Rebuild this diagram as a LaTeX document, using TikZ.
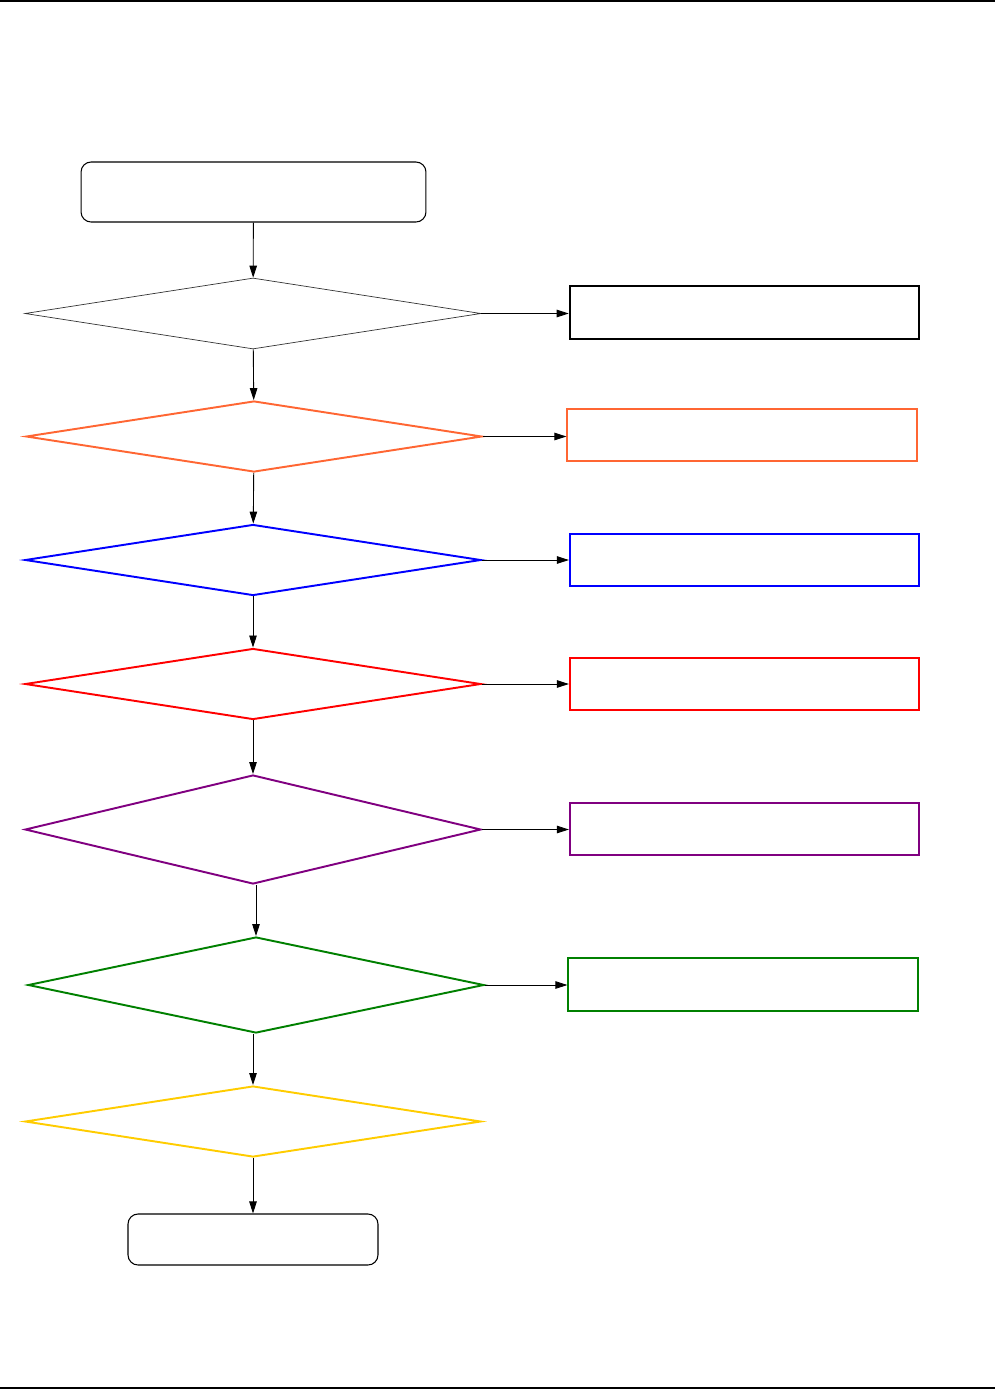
\documentclass[tikz,border=0pt]{standalone}
\usepackage{tikz}
\usetikzlibrary{shapes.geometric, arrows.meta, positioning}

\definecolor{chkorange}{RGB}{255,102,51}
\definecolor{chkblue}{RGB}{0,0,255}
\definecolor{chkred}{RGB}{255,0,0}
\definecolor{chkpurple}{RGB}{128,0,128}
\definecolor{chkgreen}{RGB}{0,128,0}
\definecolor{chkyellow}{RGB}{255,204,0}

\begin{document}
\begin{tikzpicture}[
    x=0.02cm, y=-0.02cm,
    % one unit = one pixel of the page
    terminal/.style={rectangle, rounded corners=0.2cm, draw=black, line width=0.6pt, inner sep=0pt},
    decision/.style={diamond, aspect=6.4, draw, line width=1.1pt, inner sep=0pt, minimum width=9.12cm, minimum height=1.42cm},
    result/.style={rectangle, draw, line width=1pt, inner sep=0pt, minimum width=6.99cm, minimum height=1.05cm},
    rule/.style={line width=0.9pt},
    arrow/.style={line width=0.5pt, -{Triangle[length=0.24cm, width=0.15cm]}}
]
\useasboundingbox (0,0) rectangle (995,1390);

%% -- page rules ------------------------------------------------
\draw [rule] (0,1) -- (995,1);
\draw [rule] (0,1388) -- (995,1388);

%% -- main column -----------------------------------------------
\node (start) [terminal, minimum width=6.9cm, minimum height=1.2cm] at (253.5,192) {};

\node (check1) [decision, draw=black!80, line width=0.4pt] at (253,313.5) {};
\node (check2) [decision, draw=chkorange] at (254,436.5) {};
\node (check3) [decision, draw=chkblue] at (253,560) {};
\node (check4) [decision, draw=chkred] at (253,684) {};
\node (check5) [decision, draw=chkpurple, minimum height=2.18cm, aspect=4.2] at (253,829.5) {};
\node (check6) [decision, draw=chkgreen, minimum height=1.92cm, aspect=4.75] at (256,985) {};
\node (check7) [decision, draw=chkyellow] at (253,1121.5) {};

\node (finish) [terminal, minimum width=5cm, minimum height=1.02cm] at (253,1239.5) {};

%% -- results on the right ----------------------------------------
\node (res1) [result, draw=black, line width=1.2pt] at (744.5,312.5) {};
\node (res2) [result, draw=chkorange] at (742,435) {};
\node (res3) [result, draw=chkblue] at (744.5,560) {};
\node (res4) [result, draw=chkred] at (744.5,684) {};
\node (res5) [result, draw=chkpurple] at (744.5,829) {};
\node (res6) [result, draw=chkgreen] at (743,984.5) {};

%% -- main arrows -------------------------------------------------
\draw [arrow] (start) -- (check1);
\draw [arrow] (check1) -- (check2);
\draw [arrow] (check2) -- (check3);
\draw [arrow] (check3) -- (check4);
\draw [arrow] (check4) -- (check5);
\draw [arrow] (check5.south -| check6.north) -- (check6.north);
\draw [arrow] (check6.south -| check7.north) -- (check7.north);
\draw [arrow] (check7) -- (finish);

%% -- side arrows -------------------------------------------------
\draw [arrow] (check1.east) -- (check1.east -| res1.west);
\draw [arrow] (check2.east) -- (check2.east -| res2.west);
\draw [arrow] (check3.east) -- (check3.east -| res3.west);
\draw [arrow] (check4.east) -- (check4.east -| res4.west);
\draw [arrow] (check5.east) -- (check5.east -| res5.west);
\draw [arrow] (check6.east) -- (check6.east -| res6.west);

\end{tikzpicture}
\end{document}
